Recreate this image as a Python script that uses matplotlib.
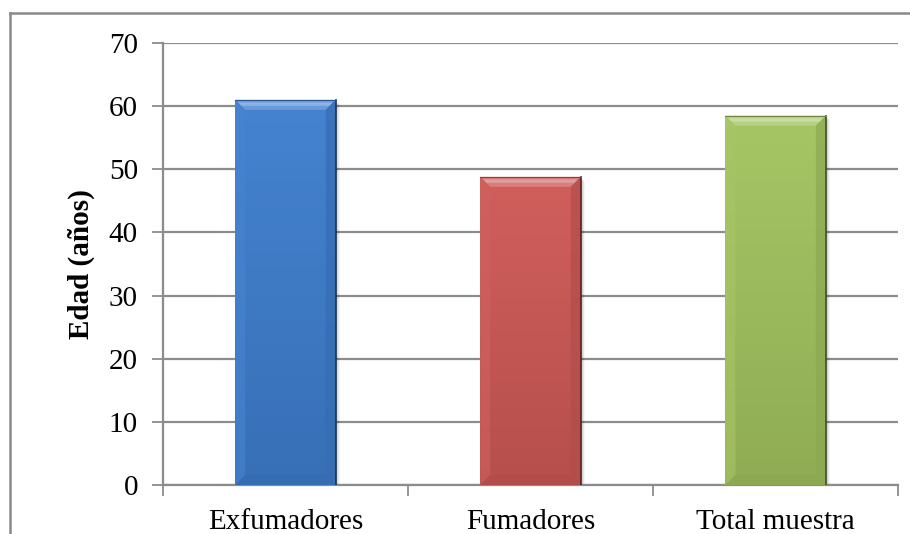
import numpy as np
import matplotlib
matplotlib.use("Agg")
import matplotlib.pyplot as plt
from matplotlib.patches import Polygon, Rectangle
from matplotlib.lines import Line2D
from matplotlib.colors import to_rgb

categories = ["Exfumadores", "Fumadores", "Total muestra"]
edad_media = [61.0, 48.8, 58.5]
colores = ["#3f7fcf", "#cf5a57", "#a3c460"]
y_ticks = [0, 10, 20, 30, 40, 50, 60, 70]

plt.rcParams["font.family"] = ["Liberation Serif", "DejaVu Serif"]

W, H, DPI = 9.1, 5.34, 100
fig = plt.figure(figsize=(W, H), dpi=DPI)
pos = [0.179, 0.0918, 0.808, 0.8277]
ax = fig.add_axes(pos)

ax.set_xlim(-0.5, len(categories) - 0.5)
ax.set_ylim(0, 70)

# size of one pixel in data units
px_x = (len(categories)) / (pos[2] * W * DPI)
px_y = 70 / (pos[3] * H * DPI)


def shade(c, f):
    r = np.array(to_rgb(c))
    if f >= 0:
        return tuple(r + (1 - r) * f)
    return tuple(r * (1 + f))


def bevel_bar(ax, bar, color):
    x0, y0 = bar.get_x(), bar.get_y()
    w, h = bar.get_width(), bar.get_height()
    x1, y1 = x0 + w, y0 + h
    bar.set_visible(False)

    # soft shadow right/below
    for i in range(6):
        ax.add_patch(Rectangle((x0 + (2 + i) * px_x * 0.6, y0 - (2 + i) * px_y * 0.6),
                               w, h, facecolor="black", alpha=0.035, lw=0, zorder=2))

    # vertical gradient body
    top, bot = np.array(shade(color, 0.03)), np.array(shade(color, -0.12))
    t = np.linspace(0, 1, 100)[:, None]
    grad = (bot * (1 - t) + top * t)[:, None, :]
    grad = np.repeat(grad, 2, axis=1)
    body = Rectangle((x0, y0), w, h, facecolor="none", lw=0, zorder=3)
    ax.add_patch(body)
    im = ax.imshow(grad, extent=(x0, x1, y0, y1), origin="lower",
                   aspect="auto", zorder=3, interpolation="bilinear")
    im.set_clip_path(body)

    dx, dy = 10 * px_x, 10 * px_y
    # top bevel
    ax.add_patch(Polygon([(x0, y1), (x1, y1), (x1 - dx, y1 - dy), (x0 + dx, y1 - dy)],
                         facecolor=shade(color, 0.22), lw=0, zorder=4))
    ax.add_patch(Polygon([(x0 + dx * 0.3, y1 - dy * 0.25), (x1 - dx * 0.3, y1 - dy * 0.25),
                          (x1 - dx * 0.6, y1 - dy * 0.6), (x0 + dx * 0.6, y1 - dy * 0.6)],
                         facecolor=shade(color, 0.4), lw=0, zorder=4))
    # left bevel
    ax.add_patch(Polygon([(x0, y1), (x0 + dx, y1 - dy), (x0 + dx, y0 + dy), (x0, y0)],
                         facecolor=shade(color, 0.04), alpha=0.6, lw=0, zorder=4))
    # right bevel
    ax.add_patch(Polygon([(x1, y1), (x1 - dx, y1 - dy), (x1 - dx, y0 + dy), (x1, y0)],
                         facecolor=shade(color, -0.14), alpha=0.7, lw=0, zorder=4))
    # bottom bevel
    ax.add_patch(Polygon([(x0, y0), (x0 + dx, y0 + dy), (x1 - dx, y0 + dy), (x1, y0)],
                         facecolor=shade(color, -0.15), alpha=0.6, lw=0, zorder=4))
    # dark outer edge on the right side
    ax.plot([x1, x1], [y0, y1], color=shade(color, -0.6), lw=1.2, zorder=5)
    ax.plot([x0, x1], [y1, y1], color=shade(color, -0.3), lw=0.8, zorder=5)


x = np.arange(len(categories))
bars = ax.bar(x, edad_media, width=0.41, color=colores, zorder=3)
for b, c in zip(bars, colores):
    bevel_bar(ax, b, c)

ax.set_xlim(-0.5, len(categories) - 0.5)
ax.set_ylim(0, 70)

grid_c = "#8c8c8c"
ax.set_yticks(y_ticks)
ax.yaxis.grid(True, color=grid_c, lw=1.6)
ax.set_axisbelow(True)
ax.tick_params(axis="y", length=8, width=1.3, color=grid_c, labelsize=21, pad=10)

# category boundaries as major ticks, names on minor ticks
ax.set_xticks(np.arange(len(categories) + 1) - 0.5)
ax.set_xticklabels([])
ax.set_xticks(x, minor=True)
ax.set_xticklabels(categories, minor=True)
ax.tick_params(axis="x", which="major", length=8, width=1.3, color=grid_c)
ax.tick_params(axis="x", which="minor", length=0, labelsize=21, pad=17)

for s in ["top", "right"]:
    ax.spines[s].set_visible(False)
for s in ["left", "bottom"]:
    ax.spines[s].set_color(grid_c)
    ax.spines[s].set_linewidth(1.6)

ax.set_ylabel("Edad (años)", fontsize=21, fontweight="bold", labelpad=10)

# outer chart border
fig.add_artist(Line2D([10 / 910, 10 / 910], [0, 1 - 13 / 534], color="#8a8a8a", lw=1.8))
fig.add_artist(Line2D([10 / 910, 1], [1 - 13 / 534, 1 - 13 / 534], color="#8a8a8a", lw=1.8))

fig.savefig("out.png", dpi=DPI)
